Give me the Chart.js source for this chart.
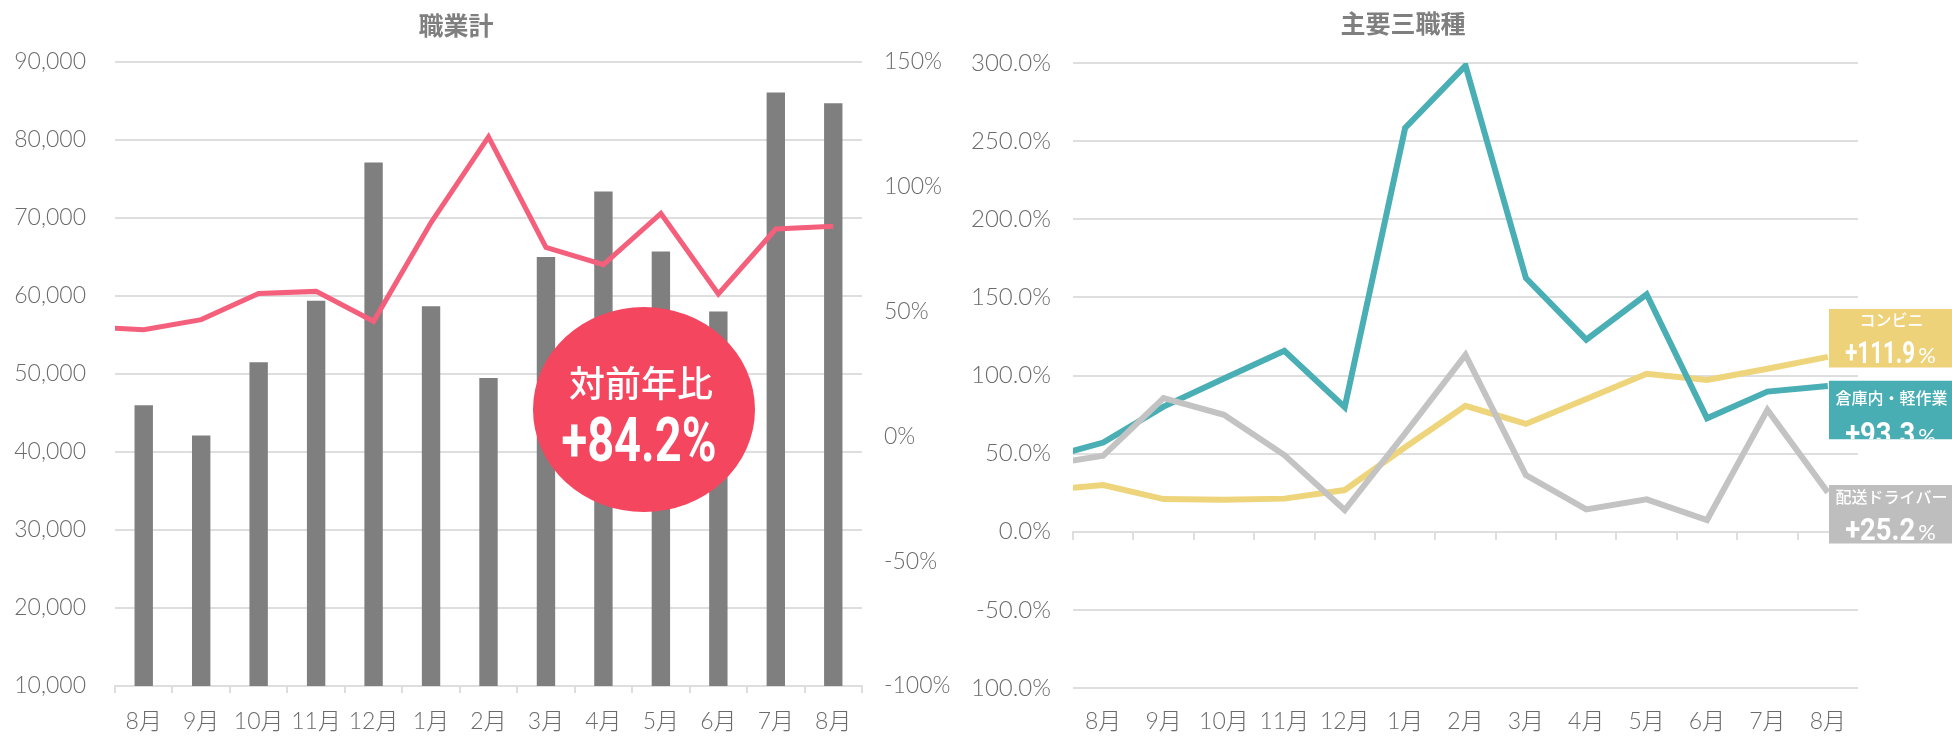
<!DOCTYPE html>
<html>
<head>
<meta charset="utf-8">
<script src="https://cdn.jsdelivr.net/npm/chart.js@4.4.1/dist/chart.umd.min.js"></script>
<style>
  body { margin: 0; background: #fff; }
  #wrap { position: relative; width: 1952px; height: 736px; }
  canvas { position: absolute; top: 0; }
</style>
</head>
<body>
<div id="wrap">
  <canvas id="left" width="971" height="736" style="left:0"></canvas>
  <canvas id="right" width="981" height="736" style="left:971px"></canvas>
</div>
<script>
// index 0 is the month before the range, only seen as a stub at the left edge
const months = ['7月', '8月', '9月', '10月', '11月', '12月', '1月', '2月', '3月', '4月', '5月', '6月', '7月', '8月'];

// 職業計
const totalJobs = [null, 46000, 42100, 51500, 59400, 77100, 58700, 49500, 65000, 73400, 65700, 58000, 86100, 84700];
const totalYoY = [44.0, 42.7, 46.8, 57.3, 58.1, 46.1, 85.7, 120.0, 75.7, 68.8, 89.3, 57.1, 83.1, 84.2];

// 主要三職種
const warehouseYoY = [46.5, 57.1, 80.1, 98.1, 115.8, 79.7, 258.4, 298.3, 162.4, 122.9, 152.0, 72.6, 89.7, 93.3];
const convenienceYoY = [26.5, 29.9, 20.9, 20.5, 21.2, 26.7, 54.1, 80.6, 69.0, 85.0, 101.1, 97.2, 104.3, 111.9];
const driverYoY = [42.4, 48.7, 85.5, 74.8, 49.1, 13.9, 63.0, 113.2, 36.3, 14.3, 20.7, 7.5, 78.0, 25.2];

const gridColor = '#dedede';
const tickColor = '#6b6b6b';
const tickFont = { family: "Lato, 'Noto Sans CJK JP', sans-serif", size: 23, weight: '300' };

// title drawn at a fixed spot (not centred on the plot area in the original)
const chartTitle = {
  id: 'chartTitle',
  afterDraw(chart, args, opts) {
    const ctx = chart.ctx;
    ctx.save();
    ctx.font = 'bold 25px "Noto Sans CJK JP"';
    ctx.fillStyle = '#7f7f7f';
    ctx.textAlign = 'center';
    ctx.textBaseline = 'middle';
    ctx.fillText(opts.text, opts.x, opts.y);
    ctx.restore();
  }
};

// red bubble with the latest YoY value
const yoyBubble = {
  id: 'yoyBubble',
  afterDraw(chart) {
    const ctx = chart.ctx;
    const last = totalYoY[totalYoY.length - 1];
    ctx.save();
    ctx.fillStyle = '#f4475f';
    ctx.beginPath();
    ctx.ellipse(644, 409.5, 111, 102.5, 0, 0, Math.PI * 2);
    ctx.fill();
    ctx.fillStyle = '#fff';
    ctx.textAlign = 'center';
    ctx.textBaseline = 'middle';
    ctx.font = '500 36px "Noto Sans CJK JP"';
    ctx.fillText('対前年比', 641, 383);
    const txt = '+' + last.toFixed(1) + '%';
    ctx.font = 'bold 62px Roboto';
    const w = ctx.measureText(txt).width;
    ctx.translate(639, 461);
    ctx.scale(155 / w, 1);
    ctx.textBaseline = 'alphabetic';
    ctx.fillText(txt, 0, 0);
    ctx.restore();
  }
};

// coloured boxes at the end of each line
const endLabels = {
  id: 'endLabels',
  afterDraw(chart, args, opts) {
    const ctx = chart.ctx;
    const left = chart.chartArea.right - 29;
    const width = chart.width - left;
    const h = 58.5;
    opts.boxes.forEach(b => {
      const ds = chart.data.datasets[b.dataset];
      const meta = chart.getDatasetMeta(b.dataset);
      const pt = meta.data[meta.data.length - 1];
      const value = ds.data[ds.data.length - 1];
      const top = pt.y + b.dy;
      const cx = left + width / 2;
      ctx.save();
      ctx.fillStyle = b.color;
      ctx.beginPath();
      ctx.rect(left, top, width, h);
      ctx.fill();
      ctx.clip();
      ctx.fillStyle = '#fff';
      ctx.textAlign = 'center';
      ctx.textBaseline = 'middle';
      ctx.font = '500 16px "Noto Sans CJK JP"';
      ctx.fillText(ds.label, cx + 1, top + b.nameDy);

      const digits = '+' + value.toFixed(1);
      ctx.font = 'bold 32px Roboto';
      const dw = ctx.measureText(digits).width;
      const target = 70;
      ctx.font = '400 22px Lato';
      const pw = ctx.measureText('%').width;
      const x0 = cx - (target + 3 + pw) / 2;
      ctx.textAlign = 'left';
      ctx.textBaseline = 'alphabetic';
      ctx.fillText('%', x0 + target + 3, top + b.valueDy);
      ctx.font = 'bold 32px Roboto';
      ctx.translate(x0, top + b.valueDy);
      ctx.scale(target / dw, 1);
      ctx.fillText(digits, 0, 0);
      ctx.restore();
    });
  }
};

const common = {
  responsive: false,
  devicePixelRatio: 1,
  animation: false,
  events: []
};

new Chart(document.getElementById('left'), {
  type: 'bar',
  data: {
    labels: months,
    datasets: [
      {
        type: 'line',
        label: '対前年比',
        data: totalYoY,
        yAxisID: 'y1',
        borderColor: '#f45f7b',
        borderWidth: 5,
        pointRadius: 0,
        tension: 0,
        borderJoinStyle: 'miter',
        clip: 0,
        order: 0
      },
      {
        type: 'bar',
        label: '職業計',
        data: totalJobs,
        yAxisID: 'y',
        backgroundColor: '#7f7f7f',
        barPercentage: 0.32,
        categoryPercentage: 1,
        order: 1
      }
    ]
  },
  options: {
    ...common,
    layout: { padding: { top: 62, left: 0, right: 0, bottom: 0 } },
    plugins: {
      legend: { display: false },
      tooltip: { enabled: false },
      chartTitle: { text: '職業計', x: 456, y: 25 }
    },
    scales: {
      x: {
        min: 1,
        offset: true,
        grid: { offset: true, drawOnChartArea: false, tickLength: 7, color: gridColor, lineWidth: 2 },
        border: { color: gridColor, width: 2 },
        ticks: { color: tickColor, font: tickFont, padding: 15, maxRotation: 0, autoSkip: false },
        afterFit: s => { s.height = 50; }
      },
      y: {
        min: 10000,
        max: 90000,
        ticks: { stepSize: 10000, padding: 29, color: tickColor, font: tickFont, callback: v => v.toLocaleString('en-US') },
        grid: { color: gridColor, lineWidth: 2, drawTicks: false },
        border: { display: false },
        afterFit: s => { s.width = 115; }
      },
      y1: {
        position: 'right',
        min: -100,
        max: 150,
        ticks: { stepSize: 50, padding: 22, color: tickColor, font: tickFont, callback: v => v + '%' },
        grid: { display: false, drawTicks: false },
        border: { display: false },
        afterFit: s => { s.width = 109; }
      }
    }
  },
  plugins: [chartTitle, yoyBubble]
});

new Chart(document.getElementById('right'), {
  type: 'line',
  data: {
    labels: months,
    datasets: [
      { label: '配送ドライバー', data: driverYoY, borderColor: '#c3c3c3' },
      { label: '倉庫内・軽作業', data: warehouseYoY, borderColor: '#4aaeb5' },
      { label: 'コンビニ', data: convenienceYoY, borderColor: '#eed47a' }
    ]
  },
  options: {
    ...common,
    layout: { padding: { top: 63, left: 0, right: 94, bottom: 0 } },
    elements: {
      line: { borderWidth: 6, tension: 0, borderJoinStyle: 'miter', fill: false },
      point: { radius: 0 }
    },
    datasets: { line: { clip: 0 } },
    plugins: {
      legend: { display: false },
      tooltip: { enabled: false },
      chartTitle: { text: '主要三職種', x: 432, y: 23 },
      endLabels: {
        boxes: [
          { dataset: 2, color: '#eed27a', dy: -48, nameDy: 11, valueDy: 54 },
          { dataset: 1, color: '#49adb4', dy: -5.2, nameDy: 17.6, valueDy: 63 },
          { dataset: 0, color: '#bebebe', dy: -7.3, nameDy: 11.7, valueDy: 55 }
        ]
      }
    },
    scales: {
      x: {
        min: 1,
        offset: true,
        grid: { display: false, drawTicks: false },
        border: { display: false },
        ticks: { color: tickColor, font: tickFont, padding: 20, maxRotation: 0, autoSkip: false },
        afterFit: s => { s.height = 48; }
      },
      x2: {
        type: 'category',
        axis: 'x',
        position: { y: 0 },
        min: 1,
        offset: true,
        grid: { offset: true, drawOnChartArea: false, tickLength: 7, color: gridColor, lineWidth: 2 },
        border: { color: gridColor, width: 2 },
        ticks: { display: false }
      },
      y: {
        min: -100,
        max: 300,
        ticks: { stepSize: 50, padding: 22, color: tickColor, font: { ...tickFont, size: 24 }, callback: v => v.toFixed(1) + '%' },
        grid: { color: gridColor, lineWidth: 2, drawTicks: false },
        border: { display: false },
        afterFit: s => { s.width = 102; }
      }
    }
  },
  plugins: [chartTitle, endLabels]
});
</script>
</body>
</html>
